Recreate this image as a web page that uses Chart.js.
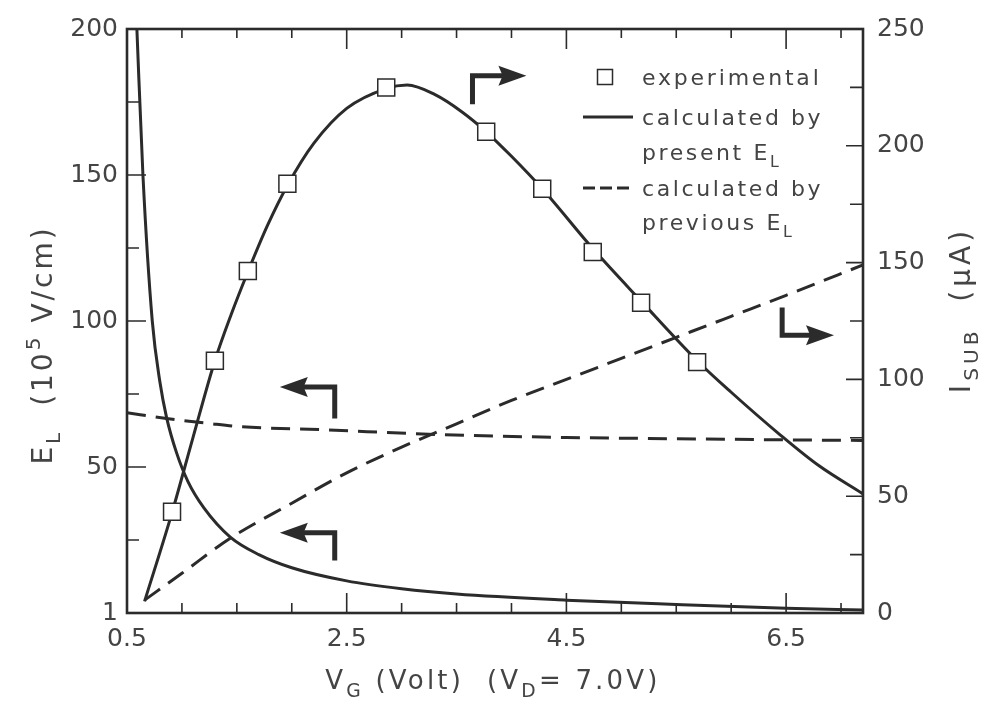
<!DOCTYPE html>
<html>
<head>
<meta charset="utf-8">
<script src="https://cdn.jsdelivr.net/npm/chart.js@4.4.1/dist/chart.umd.min.js"></script>
<style>
  html, body { margin: 0; padding: 0; background: #fff; }
  #wrap { width: 986px; height: 704px; }
</style>
</head>
<body>
<div id="wrap"><canvas id="chart" width="986" height="704"></canvas></div>
<script>
// ===================== Data ===================

const xTickValues = [0.5, 2.5, 4.5, 6.5];
const xTickLabels = ['0.5', '2.5', '4.5', '6.5'];
const leftTickValues = [0, 50, 100, 150, 200];
const leftTickLabels = ['1', '50', '100', '150', '200'];
const rightTickValues = [0, 50, 100, 150, 200, 250];
const rightTickLabels = ['0', '50', '100', '150', '200', '250'];

// E_L calculated by present model (left axis, 10^5 V/cm)
const elPresentV = [0.59, 0.645, 0.73, 0.80, 0.86, 0.95, 1.055, 1.2, 1.44, 1.7, 2.0, 2.5, 3.0, 3.5, 4.5, 5.5, 6.5, 7.2];
const elPresent  = [200, 150, 100, 79, 67, 55, 45, 36, 26, 20, 15.5, 11, 8.3, 6.5, 4.4, 2.9, 1.6, 1.0];

// E_L calculated by previous model (left axis)
const elPreviousV = [0.5, 0.86, 1.23, 1.53, 2.25, 3.35, 4.5, 5.16, 6.5, 7.2];
const elPrevious  = [68.6, 66.6, 65, 63.8, 62.8, 61.1, 60.1, 59.8, 59.3, 59.1];

// I_SUB calculated by present E_L (right axis, uA)
const isubPresentV = [0.66, 0.91, 1.1, 1.3, 1.45, 1.6, 1.78, 1.96, 2.2, 2.5, 2.86, 3.05, 3.3, 3.55, 3.77, 4.0, 4.28, 4.74, 5.18, 5.69, 6.0, 6.44, 6.8, 7.2];
const isubPresent  = [5, 43, 75, 108, 128, 146, 166, 183, 201, 216, 224.5, 226, 222, 214.5, 206, 195.5, 181.6, 156, 133.5, 108, 94.5, 76.5, 63, 51];

// I_SUB calculated by previous E_L (right axis)
const isubPreviousV = [0.66, 1.0, 1.44, 2.0, 2.5, 3.0, 3.5, 4.0, 4.5, 5.0, 5.5, 6.0, 6.5, 7.2];
const isubPrevious  = [5.5, 17, 32, 47, 60, 71, 81, 91, 100, 109, 118, 127, 136, 149];

// experimental I_SUB (right axis)
const expV    = [0.91, 1.30, 1.60, 1.96, 2.86, 3.77, 4.28, 4.74, 5.18, 5.69];
const expIsub = [43.3, 108, 146.4, 183.8, 225, 206, 181.6, 154.5, 132.8, 107.4];

// axis-pointer arrows, in (V_G, E_L) units: stem start, corner, tip
const arrows = [
  [[3.645, 174.2], [3.645, 184.0], [4.136, 184.0]],
  [[6.464, 104.6], [6.464, 95.1], [6.936, 95.1]],
  [[2.391, 66.6], [2.391, 77.4], [1.891, 77.4]],
  [[2.391, 18.0], [2.391, 27.5], [1.891, 27.5]]
];

// ===================== Style ===================

const FONT = '"DejaVu Sans", sans-serif';
const INK = '#2b2b2b';
const TEXT = '#444444';

function toPoints(xs, ys) {
  return xs.map((x, i) => ({ x: x, y: ys[i] }));
}

function lineDataset(label, xs, ys, axis, dashed) {
  return {
    label: label,
    data: toPoints(xs, ys),
    yAxisID: axis,
    borderColor: INK,
    borderWidth: 3,
    borderDash: dashed ? [19, 10] : [],
    pointRadius: 0,
    fill: false,
    cubicInterpolationMode: 'monotone'
  };
}

// draws text made of [string, mode] parts, mode '' | 'sub' | 'sup'
function drawRich(ctx, parts, x, y, size, align, spacing) {
  ctx.save();
  ctx.letterSpacing = (spacing || 0) + 'px';
  const small = size * 0.72;
  let total = 0;
  parts.forEach(([t, m]) => {
    ctx.font = `${m ? small : size}px ${FONT}`;
    total += ctx.measureText(t).width;
  });
  let cx = align === 'center' ? x - total / 2 : x;
  ctx.textAlign = 'left';
  ctx.textBaseline = 'alphabetic';
  ctx.fillStyle = TEXT;
  parts.forEach(([t, m]) => {
    ctx.font = `${m ? small : size}px ${FONT}`;
    const dy = m === 'sub' ? size * 0.3 : (m === 'sup' ? -size * 0.42 : 0);
    ctx.fillText(t, cx, y + dy);
    cx += ctx.measureText(t).width;
  });
  ctx.restore();
}

function drawArrow(ctx, pts) {
  const n = pts.length;
  const [tx, ty] = pts[n - 1];
  const [px, py] = pts[n - 2];
  const len = Math.hypot(tx - px, ty - py);
  const ux = (tx - px) / len, uy = (ty - py) / len;
  const head = 28, half = 10;
  ctx.beginPath();
  ctx.moveTo(pts[0][0], pts[0][1]);
  for (let i = 1; i < n - 1; i++) ctx.lineTo(pts[i][0], pts[i][1]);
  ctx.lineTo(tx - ux * head * 0.8, ty - uy * head * 0.8);
  ctx.lineWidth = 5;
  ctx.lineJoin = 'miter';
  ctx.lineCap = 'butt';
  ctx.strokeStyle = INK;
  ctx.stroke();
  ctx.beginPath();
  ctx.moveTo(tx, ty);
  ctx.lineTo(tx - ux * head - uy * half, ty - uy * head + ux * half);
  ctx.lineTo(tx - ux * head * 0.85, ty - uy * head * 0.85);
  ctx.lineTo(tx - ux * head + uy * half, ty - uy * head - ux * half);
  ctx.closePath();
  ctx.fillStyle = INK;
  ctx.fill();
}

// ===================== Overlay plugin ===================

const overlay = {
  id: 'overlay',
  afterDraw(chart) {
    const ctx = chart.ctx;
    const a = chart.chartArea;
    const x = chart.scales.x, yL = chart.scales.yL, yR = chart.scales.yR;

    ctx.save();
    ctx.strokeStyle = INK;

    // inward ticks
    ctx.lineWidth = 1.6;
    ctx.beginPath();
    for (let v = 1.0; v < 7.2; v += 0.5) {
      const px = x.getPixelForValue(v);
      const major = xTickValues.includes(v);
      ctx.moveTo(px, a.bottom); ctx.lineTo(px, a.bottom - (major ? 20 : 10));
      ctx.moveTo(px, a.top); ctx.lineTo(px, a.top + (major ? 20 : 9));
    }
    for (let v = 25; v < 200; v += 25) {
      const py = yL.getPixelForValue(v);
      ctx.moveTo(a.left, py); ctx.lineTo(a.left + (v % 50 === 0 ? 19 : 12), py);
    }
    for (let v = 25; v < 250; v += 25) {
      const py = yR.getPixelForValue(v);
      ctx.moveTo(a.right, py); ctx.lineTo(a.right - (v % 50 === 0 ? 17 : 13), py);
    }
    ctx.stroke();

    // frame
    ctx.lineWidth = 2.6;
    ctx.strokeRect(a.left, a.top, a.right - a.left, a.bottom - a.top);

    // arrows
    arrows.forEach(arr => {
      drawArrow(ctx, arr.map(([v, e]) => [x.getPixelForValue(v), yL.getPixelForValue(e)]));
    });

    // legend
    const lx = a.left + 515;
    const ly = a.top + 48;
    ctx.lineWidth = 1.5;
    ctx.fillStyle = '#fff';
    ctx.fillRect(lx - 37 - 7.5, ly - 7.5, 15, 15);
    ctx.strokeRect(lx - 37 - 7.5, ly - 7.5, 15, 15);
    drawRich(ctx, [['experimental', '']], lx, ly + 8, 22, 'left', 2.8);

    ctx.lineWidth = 3;
    ctx.beginPath();
    ctx.moveTo(lx - 59, ly + 40); ctx.lineTo(lx - 9, ly + 40);
    ctx.stroke();
    drawRich(ctx, [['calculated by', '']], lx, ly + 48, 22, 'left', 2.6);
    drawRich(ctx, [['present E', ''], ['L', 'sub']], lx, ly + 83, 22, 'left', 2.6);

    ctx.setLineDash([12, 5]);
    ctx.beginPath();
    ctx.moveTo(lx - 59, ly + 111); ctx.lineTo(lx - 9, ly + 111);
    ctx.stroke();
    ctx.setLineDash([]);
    drawRich(ctx, [['calculated by', '']], lx, ly + 119, 22, 'left', 2.6);
    drawRich(ctx, [['previous E', ''], ['L', 'sub']], lx, ly + 153, 22, 'left', 2.6);

    // axis titles
    drawRich(ctx, [['V', ''], ['G', 'sub'], [' (Volt)  (V', ''], ['D', 'sub'], ['= 7.0V)', '']],
      493, 689, 26, 'center', 3.2);

    ctx.save();
    ctx.translate(52, 345);
    ctx.rotate(-Math.PI / 2);
    drawRich(ctx, [['E', ''], ['L', 'sub'], ['  (10', ''], ['5', 'sup'], [' V/cm)', '']], 0, 0, 28, 'center', 3);
    ctx.restore();

    ctx.save();
    ctx.translate(970, 310);
    ctx.rotate(-Math.PI / 2);
    drawRich(ctx, [['I', ''], ['SUB', 'sub'], ['  (\u03bcA)', '']], 0, 0, 28, 'center', 4);
    ctx.restore();

    ctx.restore();
  }
};

// ===================== Chart ===================

function tickFont() {
  return { family: FONT, size: 25 };
}

function buildChart() {
  const ctx = document.getElementById('chart');
  return new Chart(ctx, {
    type: 'line',
    data: {
      datasets: [
        {
          label: 'experimental',
          data: toPoints(expV, expIsub),
          yAxisID: 'yR',
          showLine: false,
          pointStyle: 'rect',
          pointRadius: 12,
          pointBackgroundColor: '#fff',
          pointBorderColor: INK,
          pointBorderWidth: 1.5
        },
        lineDataset('E_L present', elPresentV, elPresent, 'yL', false),
        lineDataset('E_L previous', elPreviousV, elPrevious, 'yL', true),
        lineDataset('I_SUB present', isubPresentV, isubPresent, 'yR', false),
        lineDataset('I_SUB previous', isubPreviousV, isubPrevious, 'yR', true)
      ]
    },
    options: {
      responsive: false,
      animation: false,
      devicePixelRatio: 1,
      layout: { padding: { top: 24, left: 0, right: 0, bottom: 0 } },
      plugins: { legend: { display: false }, tooltip: { enabled: false } },
      scales: {
        x: {
          type: 'linear',
          min: 0.5,
          max: 7.2,
          grid: { display: false, drawTicks: false },
          border: { display: false },
          afterBuildTicks: scale => { scale.ticks = xTickValues.map(v => ({ value: v })); },
          afterFit: scale => { scale.height = 91; },
          ticks: {
            padding: 11,
            color: TEXT,
            font: tickFont(),
            maxRotation: 0,
            autoSkip: false,
            callback: value => xTickLabels[xTickValues.indexOf(value)]
          }
        },
        yL: {
          type: 'linear',
          position: 'left',
          min: 0,
          max: 200,
          grid: { display: false, drawTicks: false },
          border: { display: false },
          afterBuildTicks: scale => { scale.ticks = leftTickValues.map(v => ({ value: v })); },
          afterFit: scale => { scale.width = 127; },
          ticks: {
            padding: 9,
            color: TEXT,
            font: tickFont(),
            autoSkip: false,
            callback: value => leftTickLabels[leftTickValues.indexOf(value)]
          }
        },
        yR: {
          type: 'linear',
          position: 'right',
          min: 0,
          max: 250,
          grid: { display: false, drawTicks: false },
          border: { display: false },
          afterBuildTicks: scale => { scale.ticks = rightTickValues.map(v => ({ value: v })); },
          afterFit: scale => { scale.width = 123; },
          ticks: {
            padding: 14,
            color: TEXT,
            font: tickFont(),
            autoSkip: false,
            callback: value => rightTickLabels[rightTickValues.indexOf(value)]
          }
        }
      }
    },
    plugins: [overlay]
  });
}

document.addEventListener('DOMContentLoaded', () => {
  buildChart();
});
</script>
</body>
</html>
